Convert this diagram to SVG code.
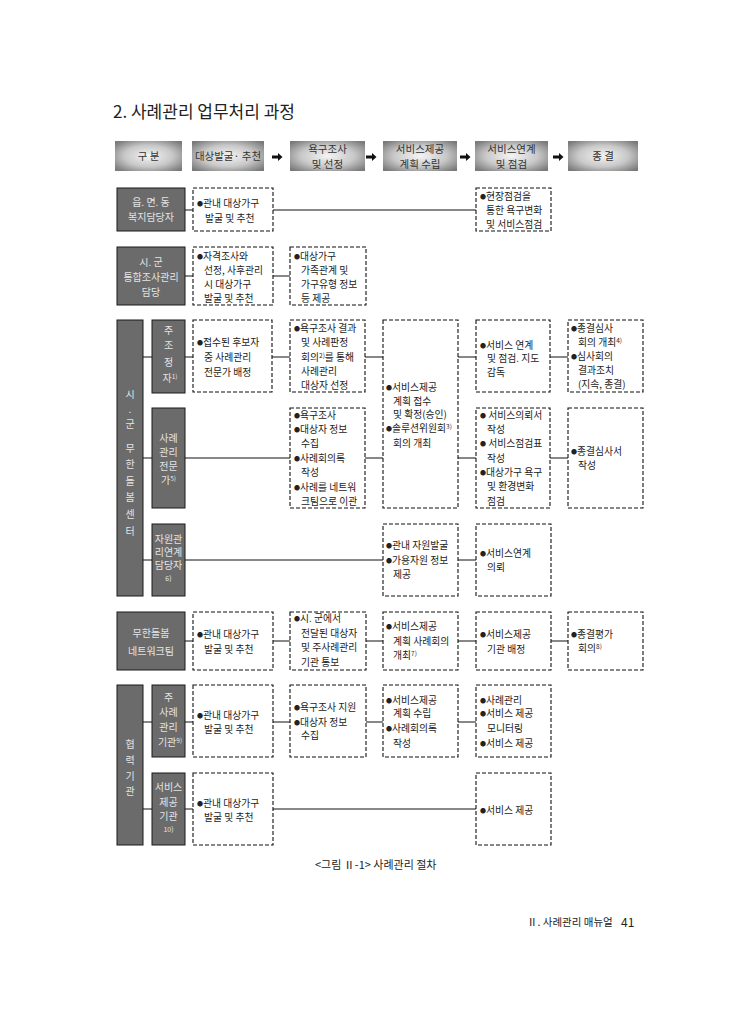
<svg xmlns="http://www.w3.org/2000/svg" width="748" height="1009" viewBox="0 0 748 1009">
<defs>
<radialGradient id="hg" cx="50%" cy="50%" r="65%">
<stop offset="0" stop-color="#f4f4f4"/>
<stop offset="0.55" stop-color="#c8c8c8"/>
<stop offset="1" stop-color="#7a7a7a"/>
</radialGradient>
<path id="arw" d="M-5,-1.6 L1,-1.6 L1,-4 L5.5,0 L1,4 L1,1.6 L-5,1.6 Z"/>
</defs>
<style>
text{font-family:"Noto Sans CJK KR","Noto Sans",sans-serif;}
.hd{fill:url(#hg);}
.ht{font-size:10.5px;fill:#333;text-anchor:middle;}
.dk{fill:#6b6b6b;stroke:#1a1a1a;stroke-width:1;}
.dt{font-size:10px;fill:#e4e4e4;text-anchor:middle;}
.dt.sm{font-size:7px;}
.db{fill:#fff;stroke:#111;stroke-width:1.1;stroke-dasharray:4 2;}
.bt{font-size:9.8px;fill:#222;}
.bl{font-size:6px;}
.sp{font-size:6.5px;}
.ln{stroke:#111;stroke-width:1;fill:none;}
</style>
<rect width="748" height="1009" fill="#fff"/>
<text x="113" y="118" font-size="17" fill="#222" font-family="Noto Sans CJK KR, sans-serif">2. 사례관리 업무처리 과정</text>

<g id="header">
<rect class="hd" x="115" y="141" width="67" height="30"/>
<text class="ht" x="148.5" y="160">구 분</text>
<rect class="hd" x="192" y="141" width="72" height="30"/>
<text class="ht" x="228" y="160">대상발굴· 추천</text>
<rect class="hd" x="290" y="141" width="75" height="30"/>
<text class="ht" x="327.5" y="153">욕구조사</text>
<text class="ht" x="327.5" y="168">및 선정</text>
<rect class="hd" x="383" y="141" width="74" height="30"/>
<text class="ht" x="420" y="153">서비스제공</text>
<text class="ht" x="420" y="168">계획 수립</text>
<rect class="hd" x="475" y="141" width="73" height="30"/>
<text class="ht" x="511.5" y="153">서비스연계</text>
<text class="ht" x="511.5" y="168">및 점검</text>
<rect class="hd" x="568" y="141" width="70" height="30"/>
<text class="ht" x="603" y="160">종 결</text>
<use href="#arw" x="277" y="157" fill="#111"/>
<use href="#arw" x="371" y="157" fill="#111"/>
<use href="#arw" x="465" y="157" fill="#111"/>
<use href="#arw" x="558" y="157" fill="#111"/>
</g>

<g id="connectors">
<path class="ln" d="M185,210H193 M273,210H476"/>
<path class="ln" d="M185,276H193 M273,276H290"/>
<path class="ln" d="M143,357H152 M185,357H193 M272,357H290 M365,357H383 M458,357H476 M550,357H568"/>
<path class="ln" d="M143,458H152 M185,458H290 M365,458H383 M458,458H476 M550,458H568"/>
<path class="ln" d="M143,560H152 M185,560H383 M458,560H476"/>
<path class="ln" d="M185,641H193 M273,641H290 M366,641H383 M458,641H476 M551,641H568"/>
<path class="ln" d="M143,722H152 M185,722H193 M273,722H290 M366,722H383 M458,722H476"/>
<path class="ln" d="M143,809H152 M185,809H193 M273,809H476"/>
</g>

<g id="n-eup">
<rect class="dk" x="117" y="188" width="68" height="43"/>
<text class="dt" x="151" y="206">읍. 면. 동</text>
<text class="dt" x="151" y="221">복지담당자</text>
</g>
<g id="n-eup-1">
<rect class="db" x="193" y="188" width="80" height="43"/>
<text class="bt" x="197" y="207"><tspan class="bl" dy="-1.5">●</tspan><tspan dy="1.5">관내 대상가구</tspan></text>
<text class="bt" x="205" y="222">발굴 및 추천</text>
</g>
<g id="n-eup-4">
<rect class="db" x="476" y="188" width="75" height="43"/>
<text class="bt" x="480" y="200"><tspan class="bl" dy="-1.5">●</tspan><tspan dy="1.5">현장점검을</tspan></text>
<text class="bt" x="486" y="214">통한 욕구변화</text>
<text class="bt" x="486" y="228">및 서비스점검</text>
</g>

<g id="n-sigun">
<rect class="dk" x="117" y="247" width="68" height="58"/>
<text class="dt" x="151" y="266">시. 군</text>
<text class="dt" x="151" y="281">통합조사관리</text>
<text class="dt" x="151" y="296">담당</text>
</g>
<g id="n-sigun-1">
<rect class="db" x="193" y="247" width="80" height="58"/>
<text class="bt" x="197" y="260"><tspan class="bl" dy="-1.5">●</tspan><tspan dy="1.5">자격조사와</tspan></text>
<text class="bt" x="204" y="274">선정, 사후관리</text>
<text class="bt" x="204" y="288">시 대상가구</text>
<text class="bt" x="204" y="302">발굴 및 추천</text>
</g>
<g id="n-sigun-2">
<rect class="db" x="290" y="247" width="76" height="58"/>
<text class="bt" x="294" y="260"><tspan class="bl" dy="-1.5">●</tspan><tspan dy="1.5">대상가구</tspan></text>
<text class="bt" x="301" y="274">가족관계 및</text>
<text class="bt" x="301" y="288">가구유형 정보</text>
<text class="bt" x="301" y="302">등 제공</text>
</g>

<g id="n-center">
<rect class="dk" x="117" y="320" width="26" height="276"/>
<text class="dt" x="130" y="398">시</text>
<text class="dt" x="130" y="413">.</text>
<text class="dt" x="130" y="428">군</text>
<text class="dt" x="130" y="452">무</text>
<text class="dt" x="130" y="468">한</text>
<text class="dt" x="130" y="485">돌</text>
<text class="dt" x="130" y="501">봄</text>
<text class="dt" x="130" y="518">센</text>
<text class="dt" x="130" y="535">터</text>
</g>
<g id="n-coord">
<rect class="dk" x="152" y="320" width="33" height="73"/>
<text class="dt" x="168.5" y="334">주</text>
<text class="dt" x="168.5" y="349">조</text>
<text class="dt" x="168.5" y="366">정</text>
<text class="dt" x="170" y="382">자<tspan class="sp" dy="-3">1)</tspan></text>
</g>
<g id="n-coord-1">
<rect class="db" x="193" y="320" width="79" height="72"/>
<text class="bt" x="197" y="346"><tspan class="bl" dy="-1.5">●</tspan><tspan dy="1.5">접수된 후보자</tspan></text>
<text class="bt" x="204" y="361">중 사례관리</text>
<text class="bt" x="204" y="376">전문가 배정</text>
</g>
<g id="n-coord-2">
<rect class="db" x="290" y="320" width="75" height="72"/>
<text class="bt" x="294" y="332"><tspan class="bl" dy="-1.5">●</tspan><tspan dy="1.5">욕구조사 결과</tspan></text>
<text class="bt" x="301" y="346">및 사례판정</text>
<text class="bt" x="301" y="361">회의<tspan class="sp" dy="-3">2)</tspan><tspan dy="3">를 통해</tspan></text>
<text class="bt" x="301" y="375">사례관리</text>
<text class="bt" x="301" y="389">대상자 선정</text>
</g>
<g id="n-plan">
<rect class="db" x="383" y="320" width="75" height="188"/>
<text class="bt" x="386" y="391"><tspan class="bl" dy="-1.5">●</tspan><tspan dy="1.5">서비스제공</tspan></text>
<text class="bt" x="393" y="405">계획 접수</text>
<text class="bt" x="393" y="418">및 확정(승인)</text>
<text class="bt" x="386" y="432"><tspan class="bl" dy="-1.5">●</tspan><tspan dy="1.5">솔루션위원회</tspan><tspan class="sp" dy="-3">3)</tspan></text>
<text class="bt" x="393" y="447">회의 개최</text>
</g>
<g id="n-coord-4">
<rect class="db" x="476" y="320" width="74" height="72"/>
<text class="bt" x="480" y="349"><tspan class="bl" dy="-1.5">●</tspan><tspan dy="1.5">서비스 연계</tspan></text>
<text class="bt" x="487" y="362">및 점검. 지도</text>
<text class="bt" x="487" y="376">감독</text>
</g>
<g id="n-coord-5">
<rect class="db" x="568" y="320" width="75" height="72"/>
<text class="bt" x="571" y="332"><tspan class="bl" dy="-1.5">●</tspan><tspan dy="1.5">종결심사</tspan></text>
<text class="bt" x="578" y="346">회의 개최<tspan class="sp" dy="-3">4)</tspan></text>
<text class="bt" x="571" y="360"><tspan class="bl" dy="-1.5">●</tspan><tspan dy="1.5">심사회의</tspan></text>
<text class="bt" x="578" y="374">결과조치</text>
<text class="bt" x="578" y="388">(지속, 종결)</text>
</g>

<g id="n-expert">
<rect class="dk" x="152" y="408" width="33" height="100"/>
<text class="dt" x="168.5" y="442">사례</text>
<text class="dt" x="168.5" y="456">관리</text>
<text class="dt" x="168.5" y="470">전문</text>
<text class="dt" x="168.5" y="484">가<tspan class="sp" dy="-3">5)</tspan></text>
</g>
<g id="n-expert-2">
<rect class="db" x="290" y="408" width="75" height="100"/>
<text class="bt" x="294" y="419"><tspan class="bl" dy="-1.5">●</tspan><tspan dy="1.5">욕구조사</tspan></text>
<text class="bt" x="294" y="433"><tspan class="bl" dy="-1.5">●</tspan><tspan dy="1.5">대상자 정보</tspan></text>
<text class="bt" x="301" y="447">수집</text>
<text class="bt" x="294" y="462"><tspan class="bl" dy="-1.5">●</tspan><tspan dy="1.5">사례회의록</tspan></text>
<text class="bt" x="301" y="476">작성</text>
<text class="bt" x="294" y="491"><tspan class="bl" dy="-1.5">●</tspan><tspan dy="1.5">사례를 네트워</tspan></text>
<text class="bt" x="301" y="505">크팀으로 이관</text>
</g>
<g id="n-expert-4">
<rect class="db" x="476" y="408" width="74" height="100"/>
<text class="bt" x="480" y="419"><tspan class="bl" dy="-1.5">●</tspan><tspan dy="1.5"> 서비스의뢰서</tspan></text>
<text class="bt" x="487" y="433">작성</text>
<text class="bt" x="480" y="447"><tspan class="bl" dy="-1.5">●</tspan><tspan dy="1.5"> 서비스점검표</tspan></text>
<text class="bt" x="487" y="462">작성</text>
<text class="bt" x="480" y="476"><tspan class="bl" dy="-1.5">●</tspan><tspan dy="1.5">대상가구 욕구</tspan></text>
<text class="bt" x="487" y="490">및 환경변화</text>
<text class="bt" x="487" y="505">점검</text>
</g>
<g id="n-expert-5">
<rect class="db" x="568" y="408" width="75" height="100"/>
<text class="bt" x="571" y="455"><tspan class="bl" dy="-1.5">●</tspan><tspan dy="1.5">종결심사서</tspan></text>
<text class="bt" x="578" y="469">작성</text>
</g>

<g id="n-resource">
<rect class="dk" x="152" y="524" width="33" height="72"/>
<text class="dt" x="168.5" y="543">자원관</text>
<text class="dt" x="168.5" y="556">리연계</text>
<text class="dt" x="168.5" y="569">담당자</text>
<text class="dt sm" x="168.5" y="581">6)</text>
</g>
<g id="n-resource-3">
<rect class="db" x="383" y="524" width="75" height="72"/>
<text class="bt" x="386" y="549"><tspan class="bl" dy="-1.5">●</tspan><tspan dy="1.5">관내 자원발굴</tspan></text>
<text class="bt" x="386" y="564"><tspan class="bl" dy="-1.5">●</tspan><tspan dy="1.5">가용자원 정보</tspan></text>
<text class="bt" x="393" y="578">제공</text>
</g>
<g id="n-resource-4">
<rect class="db" x="476" y="524" width="75" height="72"/>
<text class="bt" x="480" y="557"><tspan class="bl" dy="-1.5">●</tspan><tspan dy="1.5">서비스연계</tspan></text>
<text class="bt" x="487" y="571">의뢰</text>
</g>

<g id="n-network">
<rect class="dk" x="117" y="612" width="68" height="58"/>
<text class="dt" x="151" y="637">무한돌봄</text>
<text class="dt" x="151" y="655">네트워크팀</text>
</g>
<g id="n-network-1">
<rect class="db" x="193" y="612" width="80" height="58"/>
<text class="bt" x="197" y="638"><tspan class="bl" dy="-1.5">●</tspan><tspan dy="1.5">관내 대상가구</tspan></text>
<text class="bt" x="204" y="653">발굴 및 추천</text>
</g>
<g id="n-network-2">
<rect class="db" x="290" y="612" width="76" height="58"/>
<text class="bt" x="294" y="622"><tspan class="bl" dy="-1.5">●</tspan><tspan dy="1.5">시.  군에서</tspan></text>
<text class="bt" x="301" y="637">전달된 대상자</text>
<text class="bt" x="301" y="651">및 주사례관리</text>
<text class="bt" x="301" y="666">기관 통보</text>
</g>
<g id="n-network-3">
<rect class="db" x="383" y="612" width="75" height="58"/>
<text class="bt" x="386" y="630"><tspan class="bl" dy="-1.5">●</tspan><tspan dy="1.5">서비스제공</tspan></text>
<text class="bt" x="393" y="645">계획 사례회의</text>
<text class="bt" x="393" y="659">개최<tspan class="sp" dy="-3">7)</tspan></text>
</g>
<g id="n-network-4">
<rect class="db" x="476" y="612" width="75" height="58"/>
<text class="bt" x="480" y="638"><tspan class="bl" dy="-1.5">●</tspan><tspan dy="1.5">서비스제공</tspan></text>
<text class="bt" x="487" y="653">기관 배정</text>
</g>
<g id="n-network-5">
<rect class="db" x="568" y="612" width="75" height="58"/>
<text class="bt" x="571" y="638"><tspan class="bl" dy="-1.5">●</tspan><tspan dy="1.5">종결평가</tspan></text>
<text class="bt" x="578" y="652">회의<tspan class="sp" dy="-3">8)</tspan></text>
</g>

<g id="n-partner">
<rect class="dk" x="117" y="685" width="26" height="160"/>
<text class="dt" x="130" y="748">협</text>
<text class="dt" x="130" y="764">력</text>
<text class="dt" x="130" y="780">기</text>
<text class="dt" x="130" y="795">관</text>
</g>
<g id="n-main">
<rect class="dk" x="152" y="685" width="33" height="72"/>
<text class="dt" x="168.5" y="701">주</text>
<text class="dt" x="168.5" y="716">사례</text>
<text class="dt" x="168.5" y="731">관리</text>
<text class="dt" x="170" y="746">기관<tspan class="sp" dy="-3">9)</tspan></text>
</g>
<g id="n-main-1">
<rect class="db" x="193" y="685" width="80" height="72"/>
<text class="bt" x="197" y="719"><tspan class="bl" dy="-1.5">●</tspan><tspan dy="1.5">관내 대상가구</tspan></text>
<text class="bt" x="204" y="733">발굴 및 추천</text>
</g>
<g id="n-main-2">
<rect class="db" x="290" y="685" width="76" height="72"/>
<text class="bt" x="294" y="711"><tspan class="bl" dy="-1.5">●</tspan><tspan dy="1.5">욕구조사 지원</tspan></text>
<text class="bt" x="294" y="726"><tspan class="bl" dy="-1.5">●</tspan><tspan dy="1.5">대상자 정보</tspan></text>
<text class="bt" x="301" y="739">수집</text>
</g>
<g id="n-main-3">
<rect class="db" x="383" y="685" width="75" height="72"/>
<text class="bt" x="386" y="704"><tspan class="bl" dy="-1.5">●</tspan><tspan dy="1.5">서비스제공</tspan></text>
<text class="bt" x="393" y="717">계획 수립</text>
<text class="bt" x="386" y="732"><tspan class="bl" dy="-1.5">●</tspan><tspan dy="1.5">사례회의록</tspan></text>
<text class="bt" x="393" y="747">작성</text>
</g>
<g id="n-main-4">
<rect class="db" x="476" y="685" width="75" height="72"/>
<text class="bt" x="480" y="704"><tspan class="bl" dy="-1.5">●</tspan><tspan dy="1.5">사례관리</tspan></text>
<text class="bt" x="480" y="717"><tspan class="bl" dy="-1.5">●</tspan><tspan dy="1.5">서비스 제공</tspan></text>
<text class="bt" x="487" y="732">모니터링</text>
<text class="bt" x="480" y="747"><tspan class="bl" dy="-1.5">●</tspan><tspan dy="1.5">서비스 제공</tspan></text>
</g>

<g id="n-provider">
<rect class="dk" x="152" y="773" width="33" height="72"/>
<text class="dt" x="168.5" y="791">서비스</text>
<text class="dt" x="168.5" y="806">제공</text>
<text class="dt" x="168.5" y="820">기관</text>
<text class="dt sm" x="168.5" y="832">10)</text>
</g>
<g id="n-provider-1">
<rect class="db" x="193" y="773" width="80" height="72"/>
<text class="bt" x="197" y="807"><tspan class="bl" dy="-1.5">●</tspan><tspan dy="1.5">관내 대상가구</tspan></text>
<text class="bt" x="204" y="821">발굴 및 추천</text>
</g>
<g id="n-provider-4">
<rect class="db" x="476" y="773" width="75" height="72"/>
<text class="bt" x="480" y="814"><tspan class="bl" dy="-1.5">●</tspan><tspan dy="1.5">서비스 제공</tspan></text>
</g>

<text x="315" y="869" font-size="11" fill="#222">&lt;그림 Ⅱ-1&gt; 사례관리 절차</text>
<text x="527" y="926" font-size="10.5" fill="#222">Ⅱ. 사례관리 매뉴얼</text>
<text x="621" y="927" font-size="12" fill="#222">41</text>
</svg>
